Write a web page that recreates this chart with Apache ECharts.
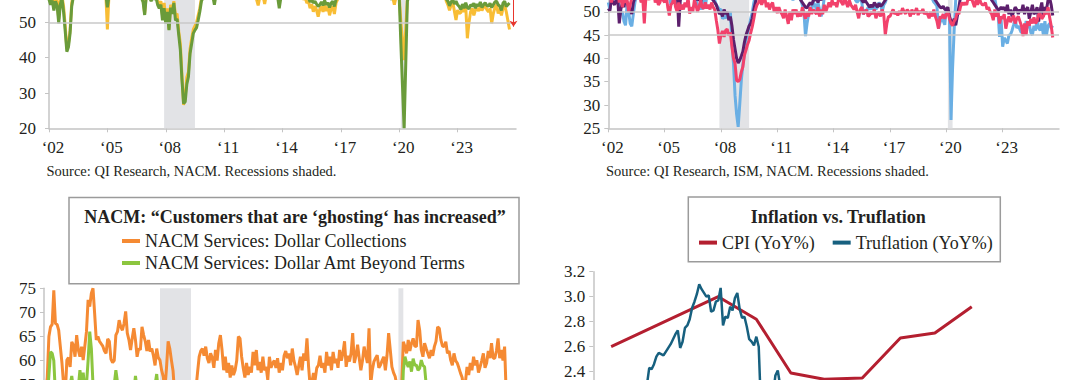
<!DOCTYPE html>
<html><head><meta charset="utf-8">
<script src="https://cdn.jsdelivr.net/npm/echarts@6/dist/echarts.min.js"></script>
<style>
html,body{margin:0;padding:0;width:1080px;height:380px;overflow:hidden;background:#fff}
#chart{position:absolute;left:0;top:-100px;width:1080px;height:640px}
</style>
</head><body><div id="chart"></div>
<script>
// ---------------- DATA ----------------
const recessions = [[2007.917, 2009.5], [2020.083, 2020.333]];
const yearLabelStart = 2002, yearLabelEnd = 2026, yearLabelStep = 3;

// Top-left panel (monthly from Jan 2002)
const tlYellow = [
57.5,56.0,57.0,55.0,57.2,56.0,51.0,56.5,57.5,54.5,49.0,42.5,
44.0,47.8,55.5,58.0,57.2,58.8,58.0,59.2,58.6,59.5,58.8,60.0,
59.8,60.5,59.0,60.0,61.0,59.5,59.8,58.5,59.5,59.0,58.0,58.6,
48.0,58.0,59.0,57.8,58.6,58.2,59.2,58.5,59.2,59.6,58.6,59.4,
59.0,59.8,58.6,59.3,58.2,57.6,58.4,57.5,58.0,57.4,56.5,52.5,
58.0,58.5,57.5,56.8,58.0,57.0,57.5,56.0,55.0,56.0,52.0,55.5,
51.0,54.0,48.0,55.0,53.5,56.0,52.0,52.5,47.5,44.0,35.0,26.6,
29.0,34.5,36.0,42.5,45.5,48.0,49.0,50.0,52.0,54.0,57.0,57.5,
58.8,58.2,59.2,59.8,58.6,58.0,56.8,58.4,59.0,58.2,58.8,59.6,
60.0,60.5,59.6,59.0,58.4,57.6,58.0,57.5,57.8,57.4,58.4,58.8,
58.4,58.0,58.8,57.6,58.0,57.4,57.6,57.0,56.5,54.8,57.2,56.8,
57.5,55.2,57.8,57.3,57.0,57.6,58.0,57.4,58.2,57.6,56.5,57.4,
58.0,57.4,58.4,58.8,58.4,59.2,58.6,58.2,59.0,58.4,58.0,58.6,
57.2,56.5,57.0,55.5,56.0,54.0,55.2,53.0,54.6,53.5,51.6,53.8,
54.5,53.0,55.0,53.2,54.5,52.0,53.8,54.6,52.4,55.5,56.5,57.2,
58.6,58.0,59.0,59.6,58.8,59.2,59.8,59.0,59.6,59.0,60.0,59.4,
60.0,60.6,59.8,59.2,60.2,59.6,59.2,59.8,59.0,58.6,58.8,58.2,
58.4,57.8,58.2,57.6,58.0,57.0,57.4,56.8,57.0,55.0,57.2,57.6,
57.4,50.0,45.0,39.3,48.0,56.5,58.0,58.6,59.0,59.6,58.8,59.4,
59.6,60.6,61.8,61.0,62.0,60.8,60.0,60.8,59.6,59.2,60.0,59.4,
59.6,59.0,58.4,57.6,58.0,56.0,55.0,53.4,55.0,55.8,53.2,50.7,
53.5,52.5,52.8,54.0,53.0,54.5,45.5,50.0,53.0,54.0,52.0,53.5,
54.0,53.2,54.5,53.4,54.2,54.8,53.6,53.0,54.0,49.7,52.5,54.2,
55.0,52.5,53.8,52.0,54.0,55.0,53.0,50.5,48.0];
const tlGreen = [
56.5,55.0,56.2,53.4,56.0,54.8,49.7,55.2,56.8,53.0,47.5,41.7,
43.0,46.9,54.5,57.2,56.6,58.0,57.0,58.5,57.8,59.0,58.2,59.5,
59.0,60.0,58.5,59.5,60.5,58.8,59.2,58.0,59.0,58.5,57.5,58.0,
54.3,57.5,58.2,57.0,58.0,57.5,58.5,57.8,58.6,59.0,58.0,58.8,
58.5,59.2,58.0,58.8,57.6,57.0,57.8,56.8,57.5,56.9,55.8,52.1,
57.5,58.0,57.0,56.0,57.5,56.5,57.0,55.0,54.0,55.0,50.6,54.0,
49.7,53.0,47.8,54.2,52.4,55.5,50.6,51.0,46.5,42.2,33.7,27.0,
27.5,32.5,34.6,41.2,44.0,46.9,47.8,48.5,50.6,53.0,56.0,57.0,
58.0,57.5,58.5,59.0,58.0,57.5,55.0,57.8,58.5,57.6,58.2,59.0,
59.5,60.0,59.0,58.5,57.8,57.0,57.5,56.8,57.2,57.0,57.8,58.2,
58.0,57.5,58.2,57.0,57.6,56.9,57.2,56.8,57.0,56.6,57.4,57.0,
57.2,56.8,57.5,57.0,56.8,57.2,57.6,57.0,57.8,57.2,54.0,57.0,
57.6,57.0,58.0,58.4,58.0,58.8,58.2,57.8,58.6,58.0,57.6,58.2,
57.5,57.0,57.8,56.6,57.0,55.8,56.5,55.5,56.0,55.2,54.5,55.0,
55.8,54.8,56.2,55.0,55.6,54.2,55.5,56.0,54.5,56.5,57.0,57.5,
58.0,57.5,58.5,59.0,58.2,58.8,59.2,58.6,59.0,58.4,59.4,58.8,
59.5,60.0,59.2,58.6,59.8,59.0,58.8,59.4,58.6,58.0,58.4,57.8,
58.0,57.5,57.8,57.2,57.6,56.8,57.0,56.6,57.0,57.2,56.8,57.4,
57.0,44.0,32.0,20.0,38.0,56.0,57.5,58.0,58.5,59.0,58.2,58.8,
59.0,60.0,61.0,60.5,61.5,60.0,59.5,60.2,59.0,58.6,59.4,58.8,
59.0,58.5,58.0,57.2,57.8,56.6,56.0,54.7,55.8,56.4,55.2,56.0,
55.0,54.5,53.6,55.2,54.0,55.6,54.2,53.8,55.0,54.6,55.4,54.0,
55.2,54.6,55.8,54.2,55.0,55.6,54.8,54.6,55.4,54.2,55.0,55.8,
56.0,55.0,54.6,53.4,55.5,56.0,54.5,55.0,55.5];
const tlArrowYear = 2025.87, tlArrowFrom = 62, tlArrowTo = 48.8;

// Top-right panel (monthly from Jan 2002)
const trBlue = [
52.0,50.5,53.5,54.0,55.0,52.0,53.0,51.0,49.5,50.0,48.0,47.1,
51.5,50.0,47.5,46.9,49.5,52.0,53.5,55.0,56.0,57.5,58.0,60.0,
61.0,60.5,61.5,62.0,61.0,60.5,61.5,59.5,58.5,57.5,57.5,58.0,
56.5,55.5,55.0,53.5,51.5,53.5,56.5,53.5,58.0,59.0,58.0,55.5,
54.5,56.0,55.0,57.0,54.0,53.5,54.0,54.5,52.5,51.5,50.5,51.5,
50.5,52.5,51.0,53.5,53.0,55.0,53.5,52.5,52.5,51.5,51.0,50.5,
50.5,48.5,49.0,48.6,49.5,49.0,50.0,43.5,38.9,32.0,28.0,25.3,
30.2,35.3,38.7,41.0,43.9,45.5,46.8,48.5,49.9,52.0,53.5,55.0,
56.0,57.5,58.0,59.0,58.5,57.0,55.5,56.5,54.5,56.0,57.0,57.5,
58.0,59.5,59.0,58.0,57.0,56.0,54.5,53.5,54.0,53.5,52.5,53.5,
54.0,53.0,53.5,52.5,51.5,50.0,44.8,47.5,49.5,51.0,50.5,52.0,
51.5,50.5,52.0,50.5,49.0,50.5,53.0,54.5,55.0,56.0,57.0,56.5,
55.0,54.5,55.5,56.0,56.5,57.0,58.0,59.0,58.5,58.0,57.5,56.5,
55.0,53.5,52.5,52.0,52.5,53.0,52.0,49.4,50.5,50.0,51.0,50.5,
51.0,50.5,51.5,50.5,51.0,52.0,51.5,50.0,51.5,52.0,53.0,54.0,
56.0,57.5,57.0,55.5,55.0,57.0,56.5,58.5,60.5,58.5,58.0,59.5,
59.0,60.5,59.0,57.5,58.5,60.0,58.5,61.0,59.5,57.5,58.5,54.5,
56.5,54.2,55.3,52.8,52.1,51.7,51.2,46.4,47.8,48.3,48.1,47.2,
50.9,50.1,49.1,26.8,38.0,46.0,52.6,55.6,55.4,59.3,57.5,60.7,
58.7,60.8,64.7,60.7,61.2,60.6,59.5,59.9,61.1,60.8,61.1,58.7,
57.6,58.6,57.1,55.4,56.1,53.0,52.8,52.8,50.9,50.2,44.6,48.4,
42.5,44.4,43.9,43.2,45.0,45.1,46.0,47.2,48.5,46.5,47.0,46.2,
45.5,47.0,46.0,48.0,46.5,47.5,45.5,45.0,47.0,46.0,48.5,46.5,
46.0,47.5,45.0,48.0,45.0,47.0,47.5,46.5,47.0];
const trPurple = [
50.7,50.2,52.8,52.0,51.5,52.5,53.0,47.5,50.5,52.0,51.0,53.0,
52.0,51.0,50.5,49.5,52.0,53.0,54.0,55.0,56.5,57.0,57.5,58.0,
58.5,59.0,59.5,60.0,59.0,58.5,58.0,57.5,57.0,56.5,57.0,56.5,
56.0,55.5,55.0,54.0,53.5,53.0,54.0,55.0,54.5,46.8,52.5,53.0,
54.0,54.5,54.0,55.0,54.5,53.5,54.0,53.0,53.5,52.5,53.0,52.0,
53.5,54.0,53.0,54.5,53.5,54.0,53.0,52.5,52.0,51.5,50.5,49.5,
50.0,49.0,50.5,49.5,50.0,48.2,49.0,47.0,44.0,42.0,40.0,39.0,
39.6,40.5,41.5,43.5,45.0,46.0,47.0,47.5,48.6,50.5,52.0,53.5,
54.0,55.0,55.5,56.0,55.5,55.0,54.5,54.0,54.5,55.0,55.5,56.0,
56.0,57.0,56.5,56.0,55.5,54.5,54.0,53.5,53.0,53.5,53.0,54.0,
53.5,54.0,53.0,52.5,52.0,51.5,51.0,50.8,51.5,52.0,51.5,52.5,
52.5,53.0,52.0,53.0,52.5,53.5,54.0,54.5,55.0,55.5,55.0,56.0,
55.5,55.0,56.0,56.5,56.0,57.0,57.5,58.0,57.5,57.0,56.5,56.0,
55.0,54.5,54.0,53.5,53.0,53.5,52.5,52.0,52.5,52.0,51.5,51.0,
51.5,51.0,52.0,51.5,51.0,51.8,51.2,51.5,52.0,52.5,53.0,53.5,
54.0,55.0,54.5,55.0,55.5,56.0,56.5,56.0,57.0,56.5,57.0,57.5,
57.0,57.5,56.5,56.0,57.0,57.5,56.5,57.0,56.5,56.0,55.5,55.0,
55.0,54.5,54.0,53.5,53.0,52.5,52.0,51.5,51.0,50.8,51.2,50.5,
50.5,51.0,49.0,48.0,47.5,48.5,47.1,49.0,51.0,53.0,54.0,55.0,
56.0,57.0,58.0,59.0,58.5,58.0,57.5,57.0,56.5,57.0,56.0,55.5,
55.0,54.5,54.0,53.5,53.0,52.5,52.0,51.5,51.0,50.5,50.5,51.0,
50.5,51.0,50.0,51.5,49.5,50.5,49.0,50.0,51.0,50.5,49.5,50.5,
50.0,51.5,49.5,50.5,51.0,48.5,50.0,51.5,49.5,50.0,51.0,47.9,
50.5,52.0,49.0,51.0,50.5,52.5,53.0,51.5,49.2];
const trPink = [
53.0,54.0,52.0,53.5,54.5,53.0,55.0,52.0,53.5,51.0,53.0,52.0,
52.5,50.0,51.5,53.0,54.0,53.0,55.0,54.0,53.5,52.0,53.0,47.5,
53.0,54.0,52.5,55.0,53.5,54.5,52.0,53.0,51.5,52.0,53.5,52.5,
52.0,53.5,51.0,49.2,51.5,52.0,53.0,51.0,50.0,52.0,50.5,51.5,
50.5,52.0,51.0,53.0,49.6,51.0,50.0,52.5,51.5,50.0,51.0,52.5,
51.0,50.7,52.0,50.7,51.5,50.5,52.0,51.0,50.5,48.2,46.1,43.2,
45.0,45.9,44.6,46.0,46.3,44.9,45.6,42.5,40.0,38.9,35.3,35.0,
35.5,37.1,38.2,40.7,41.8,43.0,43.9,45.5,46.8,48.5,50.4,51.5,
52.0,53.0,51.5,52.5,53.0,51.0,52.0,50.5,51.5,52.0,50.0,51.0,
49.7,51.0,50.0,49.5,48.6,50.5,49.0,47.4,50.0,48.2,50.5,49.5,
50.5,48.9,50.0,49.0,51.0,49.5,48.5,50.0,49.0,51.0,49.5,50.5,
50.0,49.5,51.0,49.0,50.5,49.5,51.5,50.0,51.0,52.0,51.0,52.5,
51.5,52.0,51.0,52.5,53.0,52.0,51.5,53.0,52.0,51.0,52.5,51.5,
51.0,50.5,51.5,50.0,48.6,50.5,51.0,49.5,50.0,50.5,49.0,49.3,
50.0,49.5,50.5,48.6,49.5,50.0,49.0,50.5,49.5,45.0,47.5,49.0,
49.0,49.8,50.5,49.5,50.0,49.2,50.2,49.5,50.8,50.0,49.6,50.5,
50.0,49.0,50.5,49.5,50.0,50.8,49.3,50.2,49.8,50.6,49.5,50.0,
49.5,48.6,50.0,49.0,50.5,49.0,48.0,46.4,49.0,48.6,49.5,48.5,
49.5,50.0,48.5,47.5,47.0,48.0,48.5,50.0,49.5,51.0,52.0,51.5,
52.0,51.5,53.0,52.5,53.0,52.0,51.0,52.5,51.5,53.0,52.0,51.5,
51.5,52.0,50.5,51.0,50.0,49.5,48.2,50.5,49.0,50.0,47.5,49.0,
48.5,49.5,46.4,48.0,49.0,47.8,48.5,49.2,47.5,48.5,49.0,48.0,
47.0,44.8,47.5,45.0,48.0,47.0,48.5,47.5,48.8,47.5,48.0,49.5,
49.5,48.5,49.0,50.0,49.5,51.0,48.8,47.0,44.5];
const trGuideLevels = [50, 45];

// Bottom-left panel (monthly from Jan 2002)
const blOrange = [
52.0,53.0,56.5,65.0,67.0,67.5,74.6,67.7,67.5,66.3,62.9,59.5,
55.0,53.0,60.1,60.6,58.7,63.9,63.2,60.8,65.3,62.2,60.8,62.9,
60.1,63.0,66.0,72.6,71.2,74.0,75.0,69.8,64.3,65.0,64.0,63.5,
63.0,62.0,61.5,64.5,64.0,60.3,59.6,60.0,65.3,66.0,68.4,67.0,
66.3,67.7,70.2,65.7,64.3,62.2,64.6,66.7,64.3,60.8,62.5,62.2,
67.0,65.3,64.0,62.0,64.3,61.9,62.5,61.0,59.0,62.5,60.6,60.1,
58.0,56.7,54.0,58.5,64.0,62.5,60.1,57.9,53.0,50.0,48.0,46.0,
45.0,44.0,45.5,46.0,47.5,48.5,49.0,50.5,51.0,54.0,57.5,60.8,
62.0,62.5,61.0,62.9,60.5,59.5,61.5,60.6,58.5,62.2,60.0,63.6,
65.3,62.2,58.0,60.8,57.5,59.5,56.5,59.0,57.0,58.0,60.0,65.0,
64.6,60.8,58.4,56.5,59.5,57.0,58.7,57.5,61.8,59.0,62.2,58.0,
59.7,57.5,60.8,58.0,58.7,56.0,60.8,58.5,59.5,60.0,58.5,60.5,
57.5,59.5,58.0,61.0,62.0,60.5,61.5,59.0,62.5,60.0,58.7,57.0,
59.0,60.8,58.0,61.5,60.0,64.6,58.7,54.5,55.5,57.4,56.0,58.5,
59.0,61.0,58.5,59.5,57.5,61.8,59.0,60.8,58.0,61.8,59.5,60.4,
58.5,62.2,60.0,61.5,64.0,58.7,61.0,59.8,61.5,65.7,59.5,61.0,
63.3,60.5,58.0,60.0,62.9,61.1,59.5,66.7,55.0,58.0,59.8,60.5,
61.1,58.5,59.1,60.0,60.8,58.0,61.0,65.7,62.2,58.7,57.5,56.7,
55.0,52.0,48.0,55.0,63.9,62.9,61.5,64.3,62.0,63.6,64.6,63.0,
62.9,68.4,66.3,62.2,60.8,63.6,62.5,61.5,60.5,62.2,61.0,62.9,
64.0,67.0,66.7,64.3,63.0,62.9,63.9,61.5,62.0,60.1,59.0,61.5,
60.0,59.5,58.5,57.4,56.5,54.0,55.5,58.7,57.0,59.5,58.0,60.8,
59.0,60.1,57.5,58.7,60.0,61.5,58.5,59.5,62.0,60.5,63.6,60.5,
60.5,62.0,64.6,60.5,62.2,60.0,62.9,53.0];
const blGreen = [
49.0,50.0,52.0,57.0,61.8,61.5,60.0,53.0,51.0,52.0,50.0,49.0,
48.5,50.0,53.5,52.0,55.0,56.8,54.0,53.5,55.5,54.5,58.0,55.0,
57.5,54.0,55.0,60.0,66.0,62.5,55.0,53.0,54.0,52.5,53.5,52.0,
53.0,52.0,54.0,53.5,52.0,53.0,54.5,55.0,58.0,55.5,54.0,53.5,
52.5,54.0,53.0,54.5,53.5,52.0,54.0,53.5,56.8,54.0,52.5,53.0,
53.0,52.5,54.0,53.0,52.5,54.0,53.5,52.0,55.0,57.2,53.5,52.0,
52.0,51.5,50.0,52.0,51.0,50.5,49.0,47.5,46.0,44.0,42.5,41.0,
40.5,41.0,42.0,43.5,44.5,45.5,46.5,47.5,48.0,49.0,49.5,50.5,
50.5,51.0,51.5,50.5,52.0,51.0,50.5,51.5,50.0,51.0,52.0,51.0,
52.5,51.5,50.5,52.0,50.0,51.0,50.5,49.5,50.0,51.0,50.5,52.0,
51.5,50.5,51.0,49.5,50.5,50.0,51.0,50.5,51.5,50.0,51.0,50.5,
50.0,51.0,50.5,49.5,50.5,49.0,51.0,50.0,50.5,51.5,50.0,50.5,
50.5,51.5,50.0,51.0,52.0,51.5,52.5,50.5,51.5,51.0,50.0,49.5,
50.5,51.0,50.0,52.0,51.0,52.5,50.5,49.0,50.0,50.5,49.5,50.5,
50.0,49.5,51.0,50.0,49.5,51.5,50.5,51.0,50.0,51.5,50.5,51.0,
50.5,51.5,52.0,51.0,52.5,50.5,51.5,52.0,51.0,53.0,50.5,51.5,
52.0,51.0,52.5,51.5,52.0,53.0,51.5,52.5,51.0,50.5,51.5,52.0,
51.5,50.5,51.0,52.0,51.0,50.0,51.5,52.5,51.0,50.0,50.5,49.5,
49.0,45.0,42.0,48.0,58.0,60.8,59.5,58.7,59.8,57.7,60.4,59.0,
59.1,58.0,58.4,60.1,59.0,58.7,55.0,53.5,52.5,53.0,52.0,53.5,
52.5,53.0,52.0,51.5,52.5,51.0,52.0,51.5,50.5,51.0,50.0,51.5,
50.5,50.0,51.0,49.5,50.5,49.0,50.5,51.0,49.5,50.0,51.0,50.5,
50.0,51.0,49.5,50.5,51.5,50.0,49.5,50.5,51.0,50.0,51.5,50.5,
51.0,50.0,51.5,50.5,49.5,50.0,51.0,50.0];

// Bottom-right panel
const cpiDates = ['2024-10-15','2025-01-13','2025-02-14','2025-03-15','2025-04-12','2025-05-14','2025-06-15','2025-07-14','2025-08-14'];
const cpiValues = [2.6, 3.0, 2.82, 2.39, 2.34, 2.35, 2.67, 2.71, 2.92];
const truStart = [2024, 10, 4];   // 4 Nov 2024 (year, monthIndex, day)
const truStepDays = 2;
const truValues = [
2.22,2.25,2.19,2.26,2.30,2.29,2.43,2.42,2.46,2.52,2.55,2.54,2.53,2.56,2.59,2.62,2.66,2.70,2.73,2.59,
2.64,2.75,2.77,2.82,2.91,2.96,3.02,3.10,3.06,3.03,3.00,3.01,2.88,2.89,2.96,2.97,3.07,2.77,2.84,2.83,
2.92,2.89,2.99,3.03,2.90,2.83,2.84,2.76,2.66,2.64,2.61,2.68,2.60,2.08,2.04,2.01,2.07,2.12,2.21,2.37,
2.41,2.29,2.20,2.14,2.10,2.05,2.08,2.02,1.97,2.01,1.95,1.90,1.93,1.88,1.92,1.86,1.83,1.87,1.80,1.84,
1.78,1.82,1.76,1.72,1.78,1.74,1.70,1.75,1.80,1.77,1.83,1.88,1.85,1.90,1.94,1.91,1.97,2.02,1.99,2.05,
2.10,2.06,2.12,2.15,2.11,2.18,2.14,2.20,2.24,2.19,2.16,2.22,2.18,2.13,2.17,2.10,2.06,2.12,2.09,2.15,
2.11,2.07,2.13,2.18,2.14,2.20,2.16,2.12,2.17,2.21,2.18,2.24,2.20,2.26,2.22,2.27,2.24,2.28,2.25];
const brAxisMin = '2024-09-30', brAxisMax = '2025-09-30';

// Label ranges that fall inside the cropped view of each panel
const tlLabelMax = 50, trLabelMax = 50, blLabelMin = 55, brLabelMin = 2.4;

// ---------------- BUILD ----------------
const FONT = '"Liberation Serif","Times New Roman",serif';
const TXT = '#231F20';
const AXC = '#C4C4C4';
const monthly = arr => arr.map((v, i) => [yearLabelStart + i / 12, v]);
const localTime = s => { const p = s.split('-').map(Number); return +new Date(p[0], p[1] - 1, p[2]); };
const cpiData = cpiDates.map((d, i) => [localTime(d), cpiValues[i]]);
const truData = truValues.map((v, i) => [+new Date(truStart[0], truStart[1], truStart[2] + i * truStepDays), v]);

function yearAxis(gi, showLabels) {
  return {
    type: 'value', gridIndex: gi, min: yearLabelStart, max: yearLabelEnd, interval: yearLabelStep,
    axisLine: { onZero: false, lineStyle: { color: AXC, width: 1.5 } },
    axisTick: { show: true, length: 4, lineStyle: { color: AXC } },
    splitLine: { show: false },
    axisLabel: { show: showLabels, formatter: v => '\u2018' + String(v).slice(2), showMaxLabel: false, margin: 11,
      fontFamily: FONT, fontSize: 17, color: TXT, padding: [0, 0, 0, 8] }
  };
}
function valAxis(gi, min, max, interval, margin, fmt) {
  return {
    type: 'value', gridIndex: gi, min, max, interval,
    axisLine: { show: true, onZero: false, lineStyle: { color: AXC, width: 1.5 } },
    axisTick: { show: true, length: 4, lineStyle: { color: AXC } },
    splitLine: { show: false },
    axisLabel: { margin, fontFamily: FONT, fontSize: 17, color: TXT, formatter: fmt }
  };
}
function lineSeries(name, xi, data, color, width, z) {
  return { name, type: 'line', xAxisIndex: xi, yAxisIndex: xi, data, showSymbol: false, symbol: 'none',
    lineStyle: { color, width }, itemStyle: { color }, z, silent: true, animation: false };
}
function helper(xi, withRec, levels) {
  const s = { type: 'line', xAxisIndex: xi, yAxisIndex: xi, data: [], z: 1, silent: true, animation: false };
  if (withRec) s.markArea = { silent: true, itemStyle: { color: '#E2E3E6' },
    data: recessions.map(r => [{ xAxis: r[0] }, { xAxis: r[1] }]) };
  if (levels && levels.length) s.markLine = { silent: true, symbol: 'none', label: { show: false },
    lineStyle: { color: '#C8C8C8', width: 1.5, type: 'solid' }, data: levels.map(l => ({ yAxis: l })) };
  return s;
}

const chart = echarts.init(document.getElementById('chart'), null, { renderer: 'svg' });
chart.setOption({
  animation: false,
  backgroundColor: '#fff',
  grid: [
    { left: 49, top: 51.8, width: 467, height: 176.5 },
    { left: 608.3, top: 41.9, width: 450.7, height: 186.4 },
    { left: 44, top: 388.3, width: 470.4, height: 192.8 },
    { left: 593.3, top: 371.7, width: 434.4, height: 225 }
  ],
  xAxis: [
    yearAxis(0, true), yearAxis(1, true), yearAxis(2, false),
    { type: 'time', gridIndex: 3, min: localTime(brAxisMin), max: localTime(brAxisMax),
      axisLine: { onZero: false, lineStyle: { color: AXC, width: 1.5 } }, axisTick: { show: false },
      splitLine: { show: false }, axisLabel: { show: false } }
  ],
  yAxis: [
    valAxis(0, 20, 70, 10, 13, v => (v > tlLabelMax ? '' : String(v))),
    valAxis(1, 25, 65, 5, 8, v => (v > trLabelMax ? '' : String(v))),
    valAxis(2, 35, 75, 5, 8, v => (v < blLabelMin ? '' : String(v))),
    valAxis(3, 1.4, 3.2, 0.2, 8, v => (v < brLabelMin - 0.05 ? '' : v.toFixed(1)))
  ],
  legend: [
    { data: ['NACM Services: Dollar Collections', 'NACM Services: Dollar Amt Beyond Terms'],
      orient: 'vertical', left: 122, top: 332, itemWidth: 18, itemHeight: 4, itemGap: 4, icon: 'rect',
      padding: 0, selectedMode: false, textStyle: { fontFamily: FONT, fontSize: 18, color: TXT } },
    { data: ['CPI (YoY%)', 'Truflation (YoY%)'],
      orient: 'horizontal', left: 699, top: 333.6, itemWidth: 18, itemHeight: 4, itemGap: 18, icon: 'rect',
      padding: 0, selectedMode: false, textStyle: { fontFamily: FONT, fontSize: 18, color: TXT } }
  ],
  graphic: [
    { type: 'rect', z: 0, shape: { x: 69, y: 297.6, width: 450, height: 86.2 },
      style: { fill: 'none', stroke: '#9B9B9B', lineWidth: 1.5 } },
    { type: 'text', z: 10, x: 295, y: 317, style: { text: 'NACM: \u201cCustomers that are \u2018ghosting\u2018 has increased\u201d',
      font: 'bold 18px ' + FONT, fill: TXT, align: 'center', verticalAlign: 'middle' } },
    { type: 'rect', z: 0, shape: { x: 688.3, y: 296.9, width: 312, height: 64.8 },
      style: { fill: 'none', stroke: '#9B9B9B', lineWidth: 1.5 } },
    { type: 'text', z: 10, x: 838.3, y: 317, style: { text: 'Inflation vs. Truflation',
      font: 'bold 18px ' + FONT, fill: TXT, align: 'center', verticalAlign: 'middle' } },
    { type: 'text', z: 10, x: 46.5, y: 271, style: { text: 'Source: QI Research, NACM. Recessions shaded.',
      font: '14.5px ' + FONT, fill: TXT, align: 'left', verticalAlign: 'middle' } },
    { type: 'text', z: 10, x: 606, y: 271, style: { text: 'Source: QI Research, ISM, NACM. Recessions shaded.',
      font: '14.5px ' + FONT, fill: TXT, align: 'left', verticalAlign: 'middle' } }
  ],
  series: [
    helper(0, true, [50]),
    lineSeries('Top-left series A', 0, monthly(tlYellow), '#F8BD34', 3, 2),
    lineSeries('Top-left series B', 0, monthly(tlGreen), '#6A9B3A', 3, 3),
    { type: 'line', xAxisIndex: 0, yAxisIndex: 0, data: [], z: 6, silent: true, animation: false,
      markLine: { silent: true, symbol: ['none', 'arrow'], symbolSize: 6, label: { show: false },
        lineStyle: { color: '#E8362C', width: 1, type: 'solid' },
        data: [[{ coord: [tlArrowYear, tlArrowFrom] }, { coord: [tlArrowYear, tlArrowTo] }]] } },

    helper(1, true, trGuideLevels),
    lineSeries('Top-right series A', 1, monthly(trBlue), '#6AAFE4', 3, 2),
    lineSeries('Top-right series B', 1, monthly(trPurple), '#5C1F6C', 3, 3),
    lineSeries('Top-right series C', 1, monthly(trPink), '#F2416B', 3, 4),

    helper(2, true, []),
    lineSeries('NACM Services: Dollar Collections', 2, monthly(blOrange), '#F58A33', 3, 2),
    lineSeries('NACM Services: Dollar Amt Beyond Terms', 2, monthly(blGreen), '#8CC63F', 3, 3),

    lineSeries('CPI (YoY%)', 3, cpiData, '#B41F30', 3, 2),
    lineSeries('Truflation (YoY%)', 3, truData, '#17607F', 2.5, 3)
  ]
});
</script>
</body></html>
